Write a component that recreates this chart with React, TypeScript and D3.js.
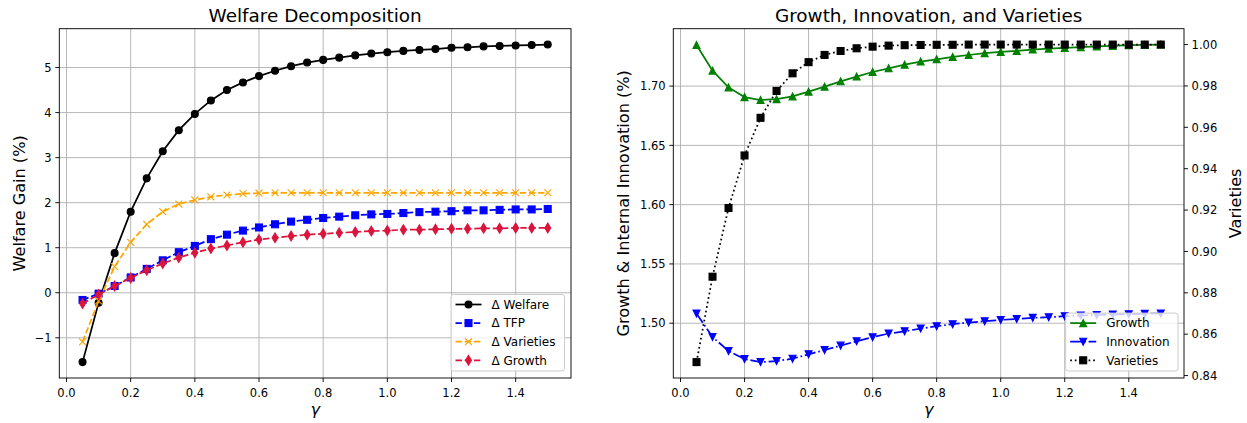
import React from "react";
import * as d3 from "d3";

// gamma grid
const GAMMA = [0.05, 0.1, 0.15, 0.2, 0.25, 0.3, 0.35, 0.4, 0.45, 0.5, 0.55, 0.6, 0.65, 0.7, 0.75,
  0.8, 0.85, 0.9, 0.95, 1.0, 1.05, 1.1, 1.15, 1.2, 1.25, 1.3, 1.35, 1.4, 1.45, 1.5];

// left panel: welfare decomposition (%)
const WELFARE = [-1.54, -0.22, 0.88, 1.8, 2.54, 3.14, 3.61, 3.97, 4.27, 4.5, 4.67, 4.81, 4.93, 5.03, 5.11,
  5.17, 5.22, 5.27, 5.31, 5.34, 5.37, 5.39, 5.41, 5.44, 5.45, 5.47, 5.48, 5.49, 5.5, 5.51];
const TFP = [-0.16, -0.02, 0.15, 0.34, 0.53, 0.72, 0.9, 1.04, 1.19, 1.29, 1.38, 1.45, 1.52, 1.58, 1.62,
  1.66, 1.69, 1.72, 1.74, 1.75, 1.77, 1.79, 1.8, 1.81, 1.83, 1.83, 1.84, 1.85, 1.85, 1.86];
const VARIETIES_GAIN = [-1.09, -0.18, 0.58, 1.12, 1.52, 1.8, 1.97, 2.06, 2.13, 2.17, 2.2, 2.21, 2.22, 2.22, 2.22,
  2.22, 2.22, 2.22, 2.22, 2.22, 2.22, 2.22, 2.22, 2.22, 2.22, 2.22, 2.22, 2.22, 2.22, 2.22];
const GROWTH_GAIN = [-0.24, -0.04, 0.15, 0.33, 0.5, 0.65, 0.78, 0.89, 0.98, 1.05, 1.12, 1.18, 1.22, 1.26, 1.29,
  1.31, 1.33, 1.35, 1.37, 1.38, 1.4, 1.4, 1.41, 1.42, 1.42, 1.43, 1.43, 1.44, 1.44, 1.44];

// right panel: growth & innovation (%) and varieties
const GROWTH = [1.7347, 1.713, 1.6989, 1.6907, 1.6882, 1.689, 1.6913, 1.6953, 1.6995, 1.704, 1.708, 1.7119,
  1.715, 1.7181, 1.7207, 1.7226, 1.7246, 1.7262, 1.7277, 1.7288, 1.7296, 1.7308, 1.7316, 1.7322, 1.7328,
  1.7334, 1.7339, 1.7345, 1.7347, 1.735];
const INNOVATION = [1.5082, 1.4884, 1.4766, 1.4698, 1.4672, 1.4681, 1.4701, 1.4738, 1.4774, 1.4811, 1.4848,
  1.4882, 1.4913, 1.4932, 1.4955, 1.4975, 1.4992, 1.5006, 1.5017, 1.5028, 1.5036, 1.5045, 1.5051, 1.5059,
  1.5065, 1.507, 1.5074, 1.5076, 1.5079, 1.5082];
const VARIETIES = [0.8465, 0.8878, 0.921, 0.9464, 0.9646, 0.9776, 0.9861, 0.9915, 0.995, 0.9969, 0.9982, 0.999,
  0.9995, 0.9997, 0.9998, 0.9999, 0.9999, 1.0, 1.0, 1.0, 1.0, 1.0, 1.0, 1.0, 1.0, 1.0, 1.0, 1.0, 1.0, 1.0];

const X_TICKS = [0, 0.2, 0.4, 0.6, 0.8, 1.0, 1.2, 1.4];
const WELFARE_TICKS = [-1, 0, 1, 2, 3, 4, 5];
const RATE_TICKS = [1.5, 1.55, 1.6, 1.65, 1.7];
const VARIETY_TICKS = [0.84, 0.86, 0.88, 0.9, 0.92, 0.94, 0.96, 0.98, 1.0];

const W = 1247, H = 423;
const FONT = "DejaVu Sans, sans-serif";
const MS = 6.9;
const LW = 1.73;
const TOP = 28.7, BOTTOM = 378;
const DASHED = "6.4,2.8";
const DASHDOT = "11.1,2.8,1.7,2.8";
const DOTTED = "1.7,2.9";

const pad = (vals: number[]) => {
  const [a, b] = d3.extent(vals) as [number, number];
  return [a - (b - a) * 0.05, b + (b - a) * 0.05];
};
const minus = (s: string) => s.replace("-", "\u2212");

type Series = { label: string; values: number[]; color: string; dash?: string; shape: string };

function Marker({ shape, x, y, color }: { shape: string; x: number; y: number; color: string }) {
  const h = MS / 2;
  const sw = 1.15;
  if (shape === "o") return <circle cx={x} cy={y} r={h} fill={color} stroke={color} strokeWidth={sw} />;
  if (shape === "s") return <rect x={x - h} y={y - h} width={MS} height={MS} fill={color} stroke={color} strokeWidth={sw} />;
  if (shape === "x")
    return (
      <path d={`M${x - h},${y - h}L${x + h},${y + h}M${x - h},${y + h}L${x + h},${y - h}`} stroke={color} strokeWidth={sw} />
    );
  let pts: number[][] = [];
  if (shape === "d") {
    const dy = MS * 0.7071, dx = dy * 0.6;
    pts = [[0, -dy], [dx, 0], [0, dy], [-dx, 0]];
  }
  if (shape === "^") pts = [[0, -h], [-h, h], [h, h]];
  if (shape === "v") pts = [[0, h], [-h, -h], [h, -h]];
  return (
    <polygon points={pts.map((p) => `${x + p[0]},${y + p[1]}`).join(" ")} fill={color} stroke={color} strokeWidth={sw} strokeLinejoin="miter" />
  );
}

function Line({ s, x, y }: { s: Series; x: d3.ScaleLinear<number, number>; y: d3.ScaleLinear<number, number> }) {
  const gen = d3.line<number>().x((_, i) => x(GAMMA[i])).y((d) => y(d));
  return (
    <g>
      <path d={gen(s.values) || ""} fill="none" stroke={s.color} strokeWidth={LW} strokeDasharray={s.dash} />
      {s.values.map((v, i) => (
        <Marker key={i} shape={s.shape} x={x(GAMMA[i])} y={y(v)} color={s.color} />
      ))}
    </g>
  );
}

function Legend({ items, right, bottom, width }: { items: Series[]; right: number; bottom: number; width: number }) {
  const rowH = 18.6;
  const h = (items.length - 1) * rowH + 20.7;
  const x0 = right - width;
  const y0 = bottom - h;
  return (
    <g>
      <rect x={x0} y={y0} width={width} height={h} rx={2.5} fill="white" fillOpacity={0.8} stroke="#cccccc" strokeWidth={1} />
      {items.map((s, i) => {
        const cy = y0 + 10 + rowH * i;
        return (
          <g key={s.label}>
            <line x1={x0 + 4.5} x2={x0 + 30.5} y1={cy} y2={cy} stroke={s.color} strokeWidth={LW} strokeDasharray={s.dash} />
            <Marker shape={s.shape} x={x0 + 17.5} y={cy} color={s.color} />
            <text x={x0 + 40.5} y={cy + 4.3} fontSize={12} fontFamily={FONT} fill="#000">{s.label}</text>
          </g>
        );
      })}
    </g>
  );
}

function Frame({ x, y, left, right, title, yTicks, fmtY, yLabel, labelX }: any) {
  const [x0, x1] = x.range();
  return (
    <g>
      {X_TICKS.map((t) => (
        <line key={"gx" + t} x1={x(t)} x2={x(t)} y1={TOP} y2={BOTTOM} stroke="#b0b0b0" strokeWidth={0.92} />
      ))}
      {yTicks.map((t: number) => (
        <line key={"gy" + t} x1={x0} x2={x1} y1={y(t)} y2={y(t)} stroke="#b0b0b0" strokeWidth={0.92} />
      ))}
      <text x={(left + right) / 2} y={21.8} textAnchor="middle" fontSize={18.4} fontFamily={FONT} fill="#000">{title}</text>
      {X_TICKS.map((t) => (
        <g key={"tx" + t}>
          <line x1={x(t)} x2={x(t)} y1={BOTTOM} y2={BOTTOM + 4} stroke="#000" strokeWidth={0.92} />
          <text x={x(t)} y={BOTTOM + 18.6} textAnchor="middle" fontSize={11.5} fontFamily={FONT} fill="#000">{t.toFixed(1)}</text>
        </g>
      ))}
      {yTicks.map((t: number) => (
        <g key={"ty" + t}>
          <line x1={x0 - 4} x2={x0} y1={y(t)} y2={y(t)} stroke="#000" strokeWidth={0.92} />
          <text x={x0 - 7.6} y={y(t) + 4.2} textAnchor="end" fontSize={11.5} fontFamily={FONT} fill="#000">{minus(fmtY(t))}</text>
        </g>
      ))}
      <text x={(left + right) / 2} y={414.5} textAnchor="middle" fontSize={16.1} fontStyle="italic" fontFamily={FONT} fill="#000">γ</text>
      <text transform={`translate(${labelX},${(TOP + BOTTOM) / 2}) rotate(-90)`} textAnchor="middle" fontSize={16.1} fontFamily={FONT} fill="#000">{yLabel}</text>
    </g>
  );
}

export default function App() {
  const LEFT_X: [number, number] = [59.3, 571];
  const RIGHT_X: [number, number] = [673.3, 1184];

  const leftSeries: Series[] = [
    { label: "\u0394 Welfare", values: WELFARE, color: "#000000", shape: "o" },
    { label: "\u0394 TFP", values: TFP, color: "#0000ff", dash: DASHED, shape: "s" },
    { label: "\u0394 Varieties", values: VARIETIES_GAIN, color: "#ffa500", dash: DASHED, shape: "x" },
    { label: "\u0394 Growth", values: GROWTH_GAIN, color: "#dc143c", dash: DASHED, shape: "d" },
  ];
  const rightSeries: Series[] = [
    { label: "Growth", values: GROWTH, color: "#008000", shape: "^" },
    { label: "Innovation", values: INNOVATION, color: "#0000ff", dash: DASHDOT, shape: "v" },
  ];
  const varSeries: Series = { label: "Varieties", values: VARIETIES, color: "#000000", dash: DOTTED, shape: "s" };

  const xL = d3.scaleLinear().domain(pad(GAMMA)).range(LEFT_X);
  const yL = d3.scaleLinear().domain(pad([...WELFARE, ...TFP, ...VARIETIES_GAIN, ...GROWTH_GAIN])).range([BOTTOM, TOP]);
  const xR = d3.scaleLinear().domain(pad(GAMMA)).range(RIGHT_X);
  const yR = d3.scaleLinear().domain(pad([...GROWTH, ...INNOVATION])).range([BOTTOM, TOP]);
  const yV = d3.scaleLinear().domain(pad(VARIETIES)).range([BOTTOM, TOP]);

  return (
    <svg width={W} height={H} style={{ position: "absolute", left: 0, top: 0, background: "#fff" }}>
      <rect width={W} height={H} fill="#fff" />
      {/* left panel */}
      <Frame x={xL} y={yL} left={LEFT_X[0]} right={LEFT_X[1]} title="Welfare Decomposition" yTicks={WELFARE_TICKS}
        fmtY={(t: number) => String(t)} yLabel="Welfare Gain (%)" labelX={25} />
      {leftSeries.map((s) => <Line key={s.label} s={s} x={xL} y={yL} />)}
      <rect x={LEFT_X[0]} y={TOP} width={LEFT_X[1] - LEFT_X[0]} height={BOTTOM - TOP} fill="none" stroke="#000" strokeWidth={0.92} />
      <Legend items={leftSeries} right={LEFT_X[1] - 6.5} bottom={BOTTOM - 7} width={113.5} />

      {/* right panel */}
      <Frame x={xR} y={yR} left={RIGHT_X[0]} right={RIGHT_X[1]} title="Growth, Innovation, and Varieties" yTicks={RATE_TICKS}
        fmtY={(t: number) => t.toFixed(2)} yLabel="Growth & Internal Innovation (%)" labelX={629} />
      {rightSeries.map((s) => <Line key={s.label} s={s} x={xR} y={yR} />)}
      <Line s={varSeries} x={xR} y={yV} />
      {VARIETY_TICKS.map((t) => (
        <g key={"tv" + t}>
          <line x1={RIGHT_X[1]} x2={RIGHT_X[1] + 4} y1={yV(t)} y2={yV(t)} stroke="#000" strokeWidth={0.92} />
          <text x={RIGHT_X[1] + 7.6} y={yV(t) + 4.2} fontSize={11.5} fontFamily={FONT} fill="#000">{t.toFixed(2)}</text>
        </g>
      ))}
      <text transform={`translate(1241,${(TOP + BOTTOM) / 2}) rotate(-90)`} textAnchor="middle" fontSize={16.1} fontFamily={FONT} fill="#000">Varieties</text>
      <rect x={RIGHT_X[0]} y={TOP} width={RIGHT_X[1] - RIGHT_X[0]} height={BOTTOM - TOP} fill="none" stroke="#000" strokeWidth={0.92} />
      <Legend items={[...rightSeries, varSeries]} right={RIGHT_X[1] - 6} bottom={BOTTOM - 7} width={112.3} />
    </svg>
  );
}
